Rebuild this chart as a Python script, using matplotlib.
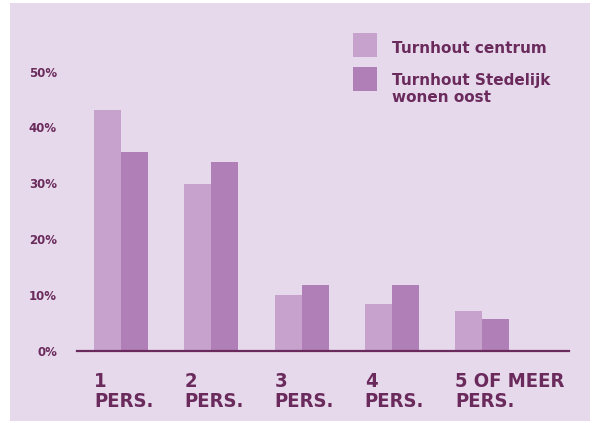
import numpy as np
import matplotlib
matplotlib.use("Agg")
import matplotlib.pyplot as plt
from matplotlib.patches import Rectangle

# data
categories = ["1\nPERS.", "2\nPERS.", "3\nPERS.", "4\nPERS.", "5 OF MEER\nPERS."]
series_names = ["Turnhout centrum", "Turnhout Stedelijk\nwonen oost"]
centrum = [43.1, 29.9, 10.0, 8.3, 7.0]
oost = [35.6, 33.8, 11.7, 11.7, 5.7]
y_ticks = [0, 10, 20, 30, 40, 50]

bg = "#e7d9ec"
light = "#c6a2cc"
dark = "#b17fb8"
ink = "#6a2b5c"

fig = plt.figure(figsize=(5.95, 4.23), dpi=100)
fig.patch.set_facecolor("white")
# lavender panel with a thin white margin
fig.patches.append(Rectangle((10 / 595, 2 / 423), 580 / 595, 418 / 423,
                             transform=fig.transFigure, facecolor=bg,
                             edgecolor="none", zorder=-5))

ax = fig.add_axes([77 / 595, 1 - 350.5 / 423, 492 / 595, (350.5 - 71.7) / 423])
ax.set_facecolor("none")
ax.set_zorder(2)

x = np.arange(len(categories))
w = 0.3
ax.bar(x - w / 2, centrum, w, color=light, label=series_names[0])
ax.bar(x + w / 2, oost, w, color=dark, label=series_names[1])

ax.set_xlim(-0.487, 4.96)
ax.set_ylim(0, 50)

for s in ["top", "right", "left"]:
    ax.spines[s].set_visible(False)
ax.spines["bottom"].set_color(ink)
ax.spines["bottom"].set_linewidth(1.6)

ax.set_yticks(y_ticks)
ax.set_yticklabels([f"{t}%" for t in y_ticks], fontsize=8.5, fontweight="bold", color=ink)
ax.tick_params(axis="y", length=0, pad=14.4)
ax.set_xticks([])

# category labels, left aligned with the first bar of each group
for xi, lab in zip(x, categories):
    ax.text(xi - w, -3.9, lab, ha="left", va="top", fontsize=14.5, fontweight="bold",
            fontstretch="condensed", color=ink, linespacing=1.02,
            family=["DejaVu Sans"])

# legend drawn by hand
box_mid = [45, 79.5]
text_base = [53, 102]
for bm, tb, col, name in zip(box_mid, text_base, [light, dark], series_names):
    fig.patches.append(Rectangle((353 / 595, 1 - (bm + 12) / 423), 24 / 595, 24 / 423,
                                 transform=fig.transFigure, facecolor=col,
                                 edgecolor="none", zorder=3))
    fig.text(392 / 595, 1 - tb / 423, name, ha="left", va="baseline",
             fontsize=11, fontweight="bold", color=ink, linespacing=1.15)

plt.savefig("out.png", dpi=100, facecolor=fig.get_facecolor())
